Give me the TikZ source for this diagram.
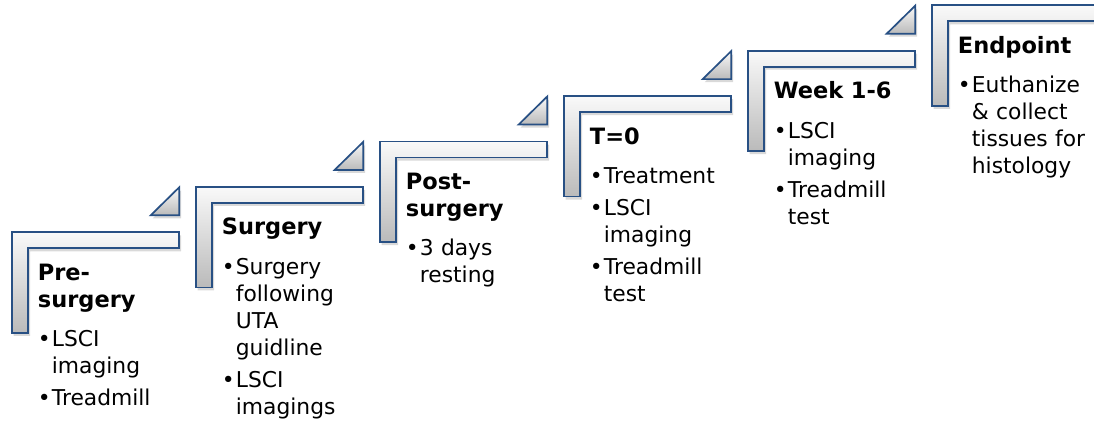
\documentclass[tikz,border=0pt]{standalone}
\usepackage{fontspec}
\setmainfont{DejaVu Sans}
\usepackage{xcolor}
\usepackage{tikz}
\usetikzlibrary{positioning,calc,shadows}

\definecolor{stepblue}{RGB}{40,80,132}
\definecolor{steptop}{RGB}{249,249,249}
\definecolor{stepbot}{RGB}{186,186,186}

\newcommand\bul[1]{\makebox[14pt][l]{\textbullet}#1}
\newcommand\cnt[1]{\hspace*{14pt}#1}

\begin{document}
\begin{tikzpicture}[x=1pt,y=-1pt,
  stair/.style={draw=stepblue,line width=1.7pt,top color=steptop,bottom color=stepbot,
    drop shadow={opacity=0.3,shadow xshift=2pt,shadow yshift=-3pt}},
  head/.style={anchor=base west,inner sep=0pt,text width=160pt,align=left,
    font=\fontsize{22.5}{27}\selectfont\bfseries},
  items/.style={inner sep=0pt,text width=160pt,align=left,
    font=\fontsize{21.8}{27}\selectfont}]
\useasboundingbox (0,0) rectangle (1094,423);
\clip (0,0) rectangle (1094,423);
% the L-shaped steps
\foreach \i in {0,...,5}{
  \coordinate (s\i) at (11.7+184*\i,232.3-45.4*\i);
  \draw[stair] (s\i) -- ++(167.5,0) -- ++(0,16) -- ++(-151,0) -- ++(0,84.5) -- ++(-16.5,0) -- cycle;
}
% small triangles above each step
\foreach \i in {0,...,4}
  \draw[stair] ($(s\i)+(167.5,-45)$) -- ++(0,28) -- ++(-28.5,0) -- cycle;
% texts
\foreach \i/\ttl/\lst in {
  0/{Pre-\\surgery}/{\bul{LSCI}\\\cnt{imaging}\\[5pt]\bul{Treadmill}},
  1/{Surgery}/{\bul{Surgery}\\\cnt{following}\\\cnt{UTA}\\\cnt{guidline}\\[5pt]\bul{LSCI}\\\cnt{imagings}},
  2/{Post-\\surgery}/{\bul{3 days}\\\cnt{resting}},
  3/{T=0}/{\bul{Treatment}\\[5pt]\bul{LSCI}\\\cnt{imaging}\\[5pt]\bul{Treadmill}\\\cnt{test}},
  4/{Week 1-6}/{\bul{LSCI}\\\cnt{imaging}\\[5pt]\bul{Treadmill}\\\cnt{test}},
  5/{Endpoint}/{\bul{Euthanize}\\\cnt{\& collect}\\\cnt{tissues for}\\\cnt{histology}}}{
  \node[head] (h\i) at ($(s\i)+(26,48)$) {\ttl\strut};
  \node[items,below=12pt of h\i.south west,anchor=north west] (b\i) {\strut\lst};
}
\end{tikzpicture}
\end{document}
